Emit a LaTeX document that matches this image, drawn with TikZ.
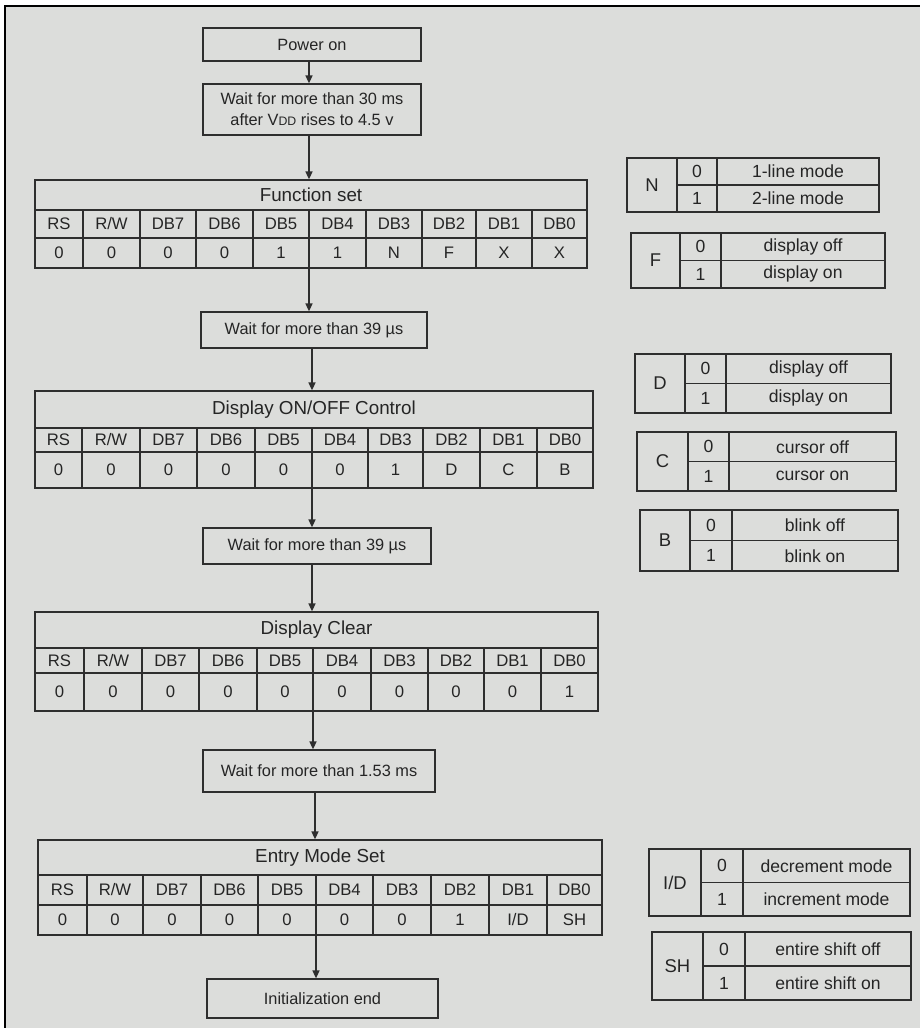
\documentclass[tikz,border=0pt]{standalone}
\usepackage{fontspec}
\setmainfont{Liberation Sans}
\usetikzlibrary{fit,arrows.meta}
\definecolor{linec}{HTML}{2E2E2E}
\definecolor{bgc}{HTML}{DCDDDB}
\def\legsplit#1|#2\relax{\def\legA{#1}\def\legB{#2}}
\newcommand\regtab[8]{%
  \foreach \x [count=\i, remember=\x as \lx (initially 0)] in {#6} {%
    \ifnum\i=1 \xdef\tabL{\x}\fi
    \xdef\tabR{\x}%
    \ifnum\i>1
      \pgfmathsetmacro\hh{{"RS","R/W","DB7","DB6","DB5","DB4","DB3","DB2","DB1","DB0"}[\i-2]}%
      \node[cell] (#1h\i) at ({(\lx+\x)/2},{(#3+#4)/2}) {\hh};
      \pgfmathsetmacro\vv{{#8}[\i-2]}%
      \node[cell] (#1v\i) at ({(\lx+\x)/2},{(#4+#5)/2}) {\vv};
      \ifnum\i<11 \draw[ln] (\x,#3) -- (\x,#5);\fi
    \fi
  }%
  \node[ln, fit={(\tabL,#2)(\tabR,#5)}, inner sep=0pt] (#1) {};
  \node[ttl] (#1t) at ({(\tabL+\tabR)/2},{(#2+#3)/2}) {#7};
  \draw[ln] (\tabL,#3) -- (\tabR,#3);
  \draw[ln] (\tabL,#4) -- (\tabR,#4);
}
\newcommand\legtab[9]{%
  \legsplit#9\relax
  \node[ln, fit={(#2,#6)(#5,#7)}, inner sep=0pt] (#1) {};
  \draw[ln] (#3,#6) -- (#3,#7);
  \draw[ln] (#4,#6) -- (#4,#7);
  \draw[ln] (#3,{(#6+#7)/2}) -- (#5,{(#6+#7)/2});
  \node[legl] (#1L) at ({(#2+#3)/2},{(#6+#7)/2}) {#8};
  \node[leg] (#1z) at ({(#3+#4)/2},{(3*#6+#7)/4}) {0};
  \node[leg] (#1o) at ({(#3+#4)/2},{(#6+3*#7)/4}) {1};
  \node[leg] (#1zt) at ({(#4+#5)/2},{(3*#6+#7)/4}) {\legA};
  \node[leg] (#1ot) at ({(#4+#5)/2},{(#6+3*#7)/4}) {\legB};
}
\newcommand\flowbox[4]{%
  \node[ln, fit={#2}, inner sep=0pt] (#1) {};
  \node[boxtxt] (#1x) at (#1.center) {#3};
}
\begin{document}
\begin{tikzpicture}[x=0.02cm,y=-0.02cm,
  ln/.style={draw=linec, line width=0.75pt},
  boxtxt/.style={inner sep=0pt, align=center, font=\fontsize{9.3}{12}\selectfont, text=linec!80!black},
  ttl/.style={inner sep=0pt, font=\fontsize{10.7}{12}\selectfont, text=linec!80!black},
  cell/.style={inner sep=0pt, font=\fontsize{9.5}{11}\selectfont, text=linec!80!black},
  leg/.style={inner sep=0pt, font=\fontsize{10}{12}\selectfont, text=linec!80!black},
  legl/.style={inner sep=0pt, font=\fontsize{10.5}{12}\selectfont, text=linec!80!black},
  arr/.style={draw=linec, line width=0.75pt, -{Triangle[length=4.5pt,width=4pt]}}
]
\useasboundingbox (0,0) rectangle (920,1028);
\fill[white] (0,0) rectangle (920,1028);
\fill[bgc] (5,6) rectangle (920,1028);
\draw[black, line width=1.5pt] (5,1028) -- (5,6) -- (920,6);

% flow boxes
\flowbox{pwr}{(203,28)(421,61)}{Power on}{}
\flowbox{w30}{(203,84)(421,135)}{Wait for more than 30 ms\\after V{\fontsize{7}{8}\selectfont DD} rises to 4.5 v}{}
\flowbox{w39a}{(201,312)(427,348)}{Wait for more than 39 µs}{}
\flowbox{w39b}{(203,528)(431,564)}{Wait for more than 39 µs}{}
\flowbox{w153}{(203,750)(435,792)}{Wait for more than 1.53 ms}{}
\flowbox{iend}{(207,979)(438,1018)}{Initialization end}{}

% register tables
\regtab{fs}{180}{210}{238}{268}{35,83,140,196,253,309,366,422,476,532,587}{Function set}{"0","0","0","0","1","1","N","F","X","X"}
\regtab{dc}{391}{428}{452}{488}{35,82,140,197,255,312,368,423,480,537,593}{Display ON/OFF Control}{"0","0","0","0","0","0","1","D","C","B"}
\regtab{cl}{612}{648}{673}{711}{35,84,142,199,257,313,371,428,484,541,598}{Display Clear}{"0","0","0","0","0","0","0","0","0","1"}
\regtab{em}{840}{875}{905}{935}{38,87,143,201,258,316,373,431,489,547,602}{Entry Mode Set}{"0","0","0","0","0","0","0","1","I/D","SH"}

% arrows
\coordinate (a1) at (309,0);
\coordinate (a2) at (312,0);
\coordinate (a3) at (313,0);
\coordinate (a4) at (315,0);
\coordinate (a5) at (316,0);
\draw[arr] (pwr.south -| a1) -- (w30.north -| a1);
\draw[arr] (w30.south -| a1) -- (fs.north -| a1);
\draw[arr] (fs.south -| a1) -- (w39a.north -| a1);
\draw[arr] (w39a.south -| a2) -- (dc.north -| a2);
\draw[arr] (dc.south -| a2) -- (w39b.north -| a2);
\draw[arr] (w39b.south -| a2) -- (cl.north -| a2);
\draw[arr] (cl.south -| a3) -- (w153.north -| a3);
\draw[arr] (w153.south -| a4) -- (em.north -| a4);
\draw[arr] (em.south -| a5) -- (iend.north -| a5);

% legend tables
\legtab{lN}{627}{677}{717}{879}{158}{212}{N}{1-line mode|2-line mode}
\legtab{lF}{631}{680}{721}{885}{233}{288}{F}{display off|display on}
\legtab{lD}{635}{685}{726}{891}{354}{413}{D}{display off|display on}
\legtab{lC}{637}{688}{729}{896}{432}{491}{C}{cursor off|cursor on}
\legtab{lB}{640}{690}{732}{898}{510}{571}{B}{blink off|blink on}
\legtab{lI}{649}{701}{743}{910}{849}{916}{I/D}{decrement mode|increment mode}
\legtab{lS}{652}{703}{745}{911}{932}{1000}{SH}{entire shift off|entire shift on}
\end{tikzpicture}
\end{document}
